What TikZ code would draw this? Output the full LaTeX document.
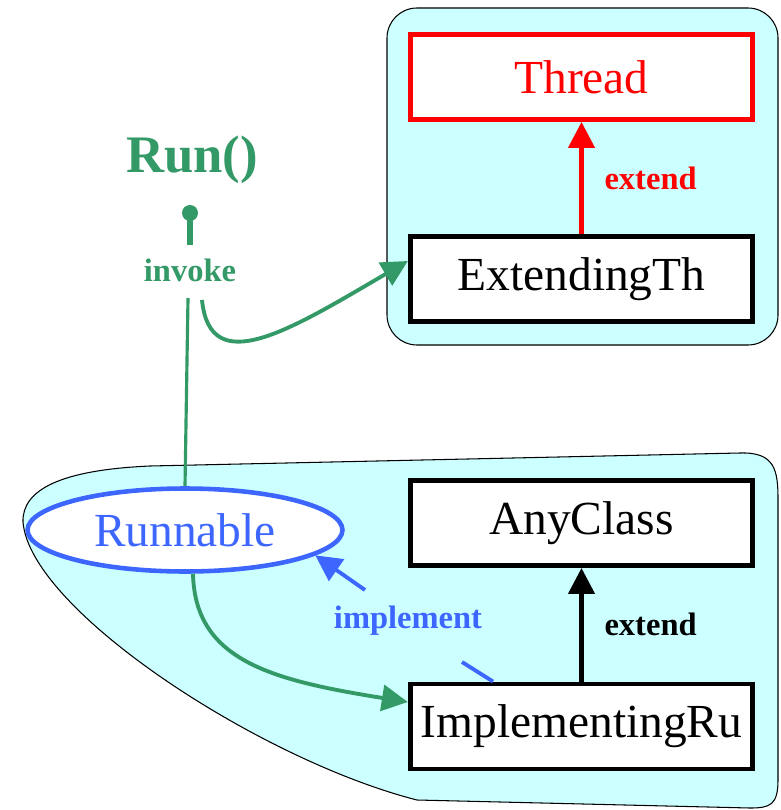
\documentclass[tikz,border=0pt]{standalone}
\usepackage{fontspec}
\setmainfont{Liberation Serif}
\usetikzlibrary{arrows.meta,calc,shapes.geometric}
\definecolor{clusterfill}{HTML}{CCFFFF}
\definecolor{invokegreen}{HTML}{339966}
\definecolor{implblue}{HTML}{3D66FF}
\tikzset{
    classbox/.style={draw, line width=2.8pt, fill=white, minimum width=6.85cm, minimum height=1.7cm, font=\fontsize{27}{30}\selectfont},
    edgelabel/.style={font=\bfseries\fontsize{18.5}{20}\selectfont},
    cluster/.style={draw=black, line width=0.6pt, fill=clusterfill},
    headarrow/.style={-{Triangle[length=0.52cm, width=0.52cm]}, line width=2.5pt}
}
\begin{document}
\begin{tikzpicture}[x=0.02cm, y=-0.02cm]
        \useasboundingbox (0,0) rectangle (780,810);
        % Clusters
        \draw[cluster, rounded corners=0.6cm] (387,8) rectangle (778,345);
        \draw[cluster] (740,453) .. controls (775,452) and (778,470) .. (778,500)
            -- (778,780) .. controls (778,805) and (770,808) .. (750,808)
            -- (417,800) .. controls (260,760) and (30,610) .. (23,522)
            .. controls (22,490) and (60,470) .. (150,466) -- cycle;

        % Blocks
        \node[classbox, draw=red, text=red] (thread) at (581.5,77) {Thread};
        \node[classbox] (extending) at (581.5,279) {ExtendingTh};
        \node[classbox] (anyclass) at (581.5,523) {AnyClass};
        \node[classbox] (implementing) at (581.5,726.5) {ImplementingRu};
        \node[draw=implblue, text=implblue, line width=2.6pt, fill=white, ellipse, minimum width=6.3cm, minimum height=1.66cm, font=\fontsize{27}{30}\selectfont] (runnable) at (185,530) {Runnable};

        % Run() and invoke
        \node[text=invokegreen, font=\bfseries\fontsize{30}{32}\selectfont] (run) at (192,160) {Run()};
        \node[circle, fill=invokegreen, inner sep=0pt, minimum size=0.32cm] (dot) at (190,213) {};
        \node[edgelabel, text=invokegreen] (invoke) at (190,270) {invoke};
        \coordinate (stubend) at (190,245);
        \coordinate (invokelow) at (188,298);
        \coordinate (invokeright) at (202,300);

        % Arrows
        \draw[headarrow, red] (extending.north) -- (thread.south)
            node[edgelabel, midway, right=0.3cm] {extend};
        \draw[headarrow] (implementing.north) -- (anyclass.south)
            node[edgelabel, midway, right=0.3cm] {extend};
        \draw[invokegreen, line width=3pt] (dot.center) -- (stubend);
        \draw[invokegreen, line width=1.8pt] (runnable.north) -- (invokelow);
        \draw[headarrow, invokegreen, line width=2.2pt] (invokeright) .. controls (210,380) and (290,330) .. ([yshift=0.36cm]extending.west);
        \draw[headarrow, invokegreen, line width=2.2pt] ([xshift=0.16cm]runnable.south) .. controls (195,660) and (270,680) .. ([yshift=0.49cm]implementing.west);

        % implement
        \coordinate (implstart) at (462,662);
        \coordinate (implend) at (365,590);
        \node[edgelabel, text=implblue] (implement) at (408,621) {implement};
        \draw[implblue, line width=2.2pt] ([xshift=-1.77cm]implementing.north) -- (implstart);
        \draw[headarrow, implblue, line width=2.2pt] (implend) -- (runnable.-11);

    \end{tikzpicture}
\end{document}
